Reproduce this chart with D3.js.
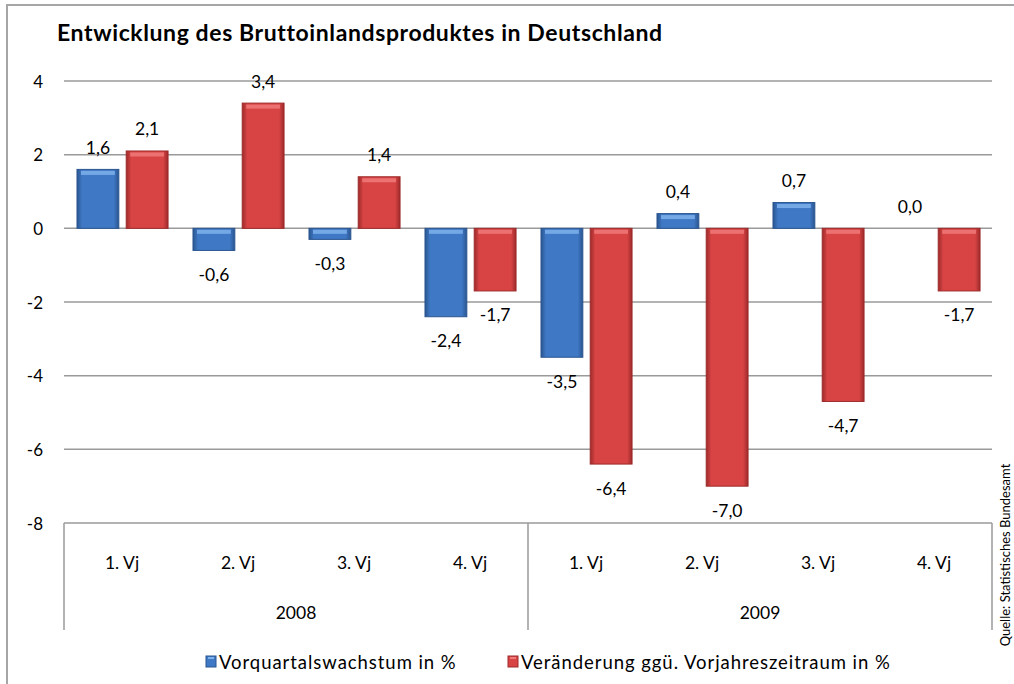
<!DOCTYPE html>
<html>
<head>
<meta charset="utf-8">
<script src="https://cdn.jsdelivr.net/npm/d3@7"></script>
<style>
  body { margin: 0; background: #fff; }
  svg text { font-family: 'Lato', 'Open Sans', sans-serif; fill: #000; }
</style>
</head>
<body>
<div id="chart"></div>
<script>
// Werte aus der Grafik
const years = ['2008', '2009'];
const quarters = ['1. Vj', '2. Vj', '3. Vj', '4. Vj'];
const seriesNames = ['Vorquartalswachstum in %', 'Veränderung ggü. Vorjahreszeitraum in %'];
const vorquartal = [1.6, -0.6, -0.3, -2.4, -3.5, 0.4, 0.7, 0.0];
const vorjahr = [2.1, 3.4, 1.4, -1.7, -6.4, -7.0, -4.7, -1.7];
const yTicks = [4, 2, 0, -2, -4, -6, -8];

const W = 1014, H = 684;
const margin = { left: 64, right: 22 };

const categories = years.flatMap(y => quarters.map(q => y + '|' + q));
const rows = categories.map((c, i) => ({ key: c, values: [vorquartal[i], vorjahr[i]] }));

const svg = d3.select('#chart').append('svg')
  .attr('width', W).attr('height', H);

const defs = svg.append('defs');

// Balken-Verläufe (leichter 3D-Look)
const palettes = [
  { edge: '#2a5590', mid: '#3f78c4', light: '#7fb2ec' },
  { edge: '#9e2a2a', mid: '#d84444', light: '#f07a7a' }
];
palettes.forEach((p, i) => {
  const g = defs.append('linearGradient').attr('id', `grad-h-${i}`)
    .attr('x1', 0).attr('x2', 1).attr('y1', 0).attr('y2', 0);
  g.append('stop').attr('offset', '0%').attr('stop-color', p.edge);
  g.append('stop').attr('offset', '12%').attr('stop-color', p.mid);
  g.append('stop').attr('offset', '88%').attr('stop-color', p.mid);
  g.append('stop').attr('offset', '100%').attr('stop-color', p.edge);
});

const x0 = d3.scaleBand().domain(categories)
  .range([margin.left, W - margin.right]).paddingInner(0).paddingOuter(0);
const bw = x0.bandwidth();
const x1 = d3.scaleBand().domain([0, 1])
  .range([0.112 * bw, 0.897 * bw]).paddingInner(0.15).paddingOuter(0);
const y = d3.scaleLinear().domain([-8, 4]).range([523, 81]);

// Rahmen
svg.append('path')
  .attr('d', `M7,${H} V5 H${W}`)
  .attr('fill', 'none').attr('stroke', '#a6a6a6').attr('stroke-width', 2);

// Titel
svg.append('text')
  .attr('x', 57).attr('y', 41)
  .attr('font-size', '23px').attr('font-weight', 'bold')
  .attr('letter-spacing', '0.6px')
  .text('Entwicklung des Bruttoinlandsproduktes in Deutschland');

// Gitterlinien
const yAxis = svg.append('g');
yAxis.selectAll('line').data(yTicks).enter().append('line')
  .attr('x1', margin.left).attr('x2', W - margin.right)
  .attr('y1', d => y(d)).attr('y2', d => y(d))
  .attr('stroke', '#9a9a9a').attr('stroke-width', 1.5);
yAxis.selectAll('text').data(yTicks).enter().append('text')
  .attr('x', 43).attr('y', d => y(d))
  .attr('text-anchor', 'end').attr('dominant-baseline', 'central')
  .attr('font-size', '17px')
  .text(d => d);

// Kategorieachse (zweistufig)
const xAxis = svg.append('g');
const axisTop = y(-8), axisBottom = 630;
const yearEdges = [0, 4, 8].map(i => i < 8 ? x0(categories[i]) : x0.range()[1]);
xAxis.selectAll('line.sep').data(yearEdges).enter().append('line')
  .attr('x1', d => d).attr('x2', d => d)
  .attr('y1', axisTop).attr('y2', axisBottom)
  .attr('stroke', '#9a9a9a').attr('stroke-width', 1.5);
xAxis.selectAll('text.q').data(categories).enter().append('text')
  .attr('x', d => x0(d) + bw / 2).attr('y', 562)
  .attr('text-anchor', 'middle').attr('dominant-baseline', 'central')
  .attr('font-size', '17.5px')
  .text(d => d.split('|')[1]);
xAxis.selectAll('text.y').data(years).enter().append('text')
  .attr('x', (d, i) => (yearEdges[i] + yearEdges[i + 1]) / 2).attr('y', 612)
  .attr('text-anchor', 'middle').attr('dominant-baseline', 'central')
  .attr('font-size', '17.5px')
  .text(d => d);

// Balken
const groups = svg.append('g').selectAll('g').data(rows).enter().append('g')
  .attr('transform', d => `translate(${x0(d.key)},0)`);

const bars = groups.selectAll('g.bar').data(d => d.values.map((v, s) => ({ v, s })))
  .enter().append('g').attr('class', 'bar');

bars.append('rect')
  .attr('x', d => x1(d.s)).attr('width', x1.bandwidth())
  .attr('y', d => y(Math.max(0, d.v)))
  .attr('height', d => Math.abs(y(d.v) - y(0)))
  .attr('fill', d => `url(#grad-h-${d.s})`)
  .attr('stroke', d => palettes[d.s].edge).attr('stroke-width', 1);

// Glanzkante oben
bars.filter(d => Math.abs(y(d.v) - y(0)) > 6).append('rect')
  .attr('x', d => x1(d.s) + 4).attr('width', x1.bandwidth() - 8)
  .attr('y', d => y(Math.max(0, d.v)) + 1.5)
  .attr('height', 4)
  .attr('fill', d => palettes[d.s].light).attr('opacity', 0.85);

// Wertelabels
bars.append('text')
  .attr('x', d => x1(d.s) + x1.bandwidth() / 2)
  .attr('y', d => d.v >= 0 ? y(d.v) - 22 : y(d.v) + 24)
  .attr('text-anchor', 'middle').attr('dominant-baseline', 'central')
  .attr('font-size', '17.5px')
  .text(d => d3.format('.1f')(d.v).replace('.', ',').replace('−', '-'));

// Legende
const legend = svg.append('g');
const legendItems = [{ x: 206, s: 0 }, { x: 508, s: 1 }];
legendItems.forEach(it => {
  legend.append('rect')
    .attr('x', it.x).attr('y', 656).attr('width', 10).attr('height', 11)
    .attr('fill', palettes[it.s].mid).attr('stroke', palettes[it.s].edge);
  legend.append('rect')
    .attr('x', it.x + 2).attr('y', 657).attr('width', 6).attr('height', 2)
    .attr('fill', palettes[it.s].light);
  legend.append('text')
    .attr('x', it.x + 13).attr('y', 662)
    .attr('dominant-baseline', 'central').attr('font-size', '18.5px')
    .attr('letter-spacing', '0.95px')
    .text(seriesNames[it.s]);
});

// Quelle
svg.append('text')
  .attr('transform', 'translate(1010,555) rotate(-90)')
  .attr('text-anchor', 'middle').attr('font-size', '13px')
  .text('Quelle: Statistisches Bundesamt');
</script>
</body>
</html>
